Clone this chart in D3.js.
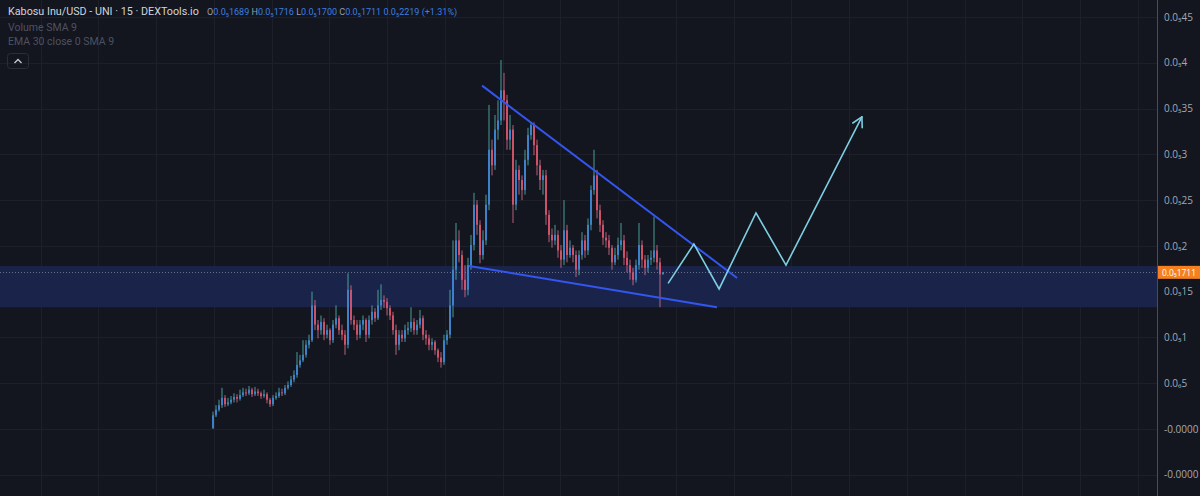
<!DOCTYPE html>
<html><head><meta charset="utf-8">
<script src="https://cdn.jsdelivr.net/npm/d3@7"></script>
<style>html,body{margin:0;padding:0;background:#13151f;overflow:hidden}svg{display:block}</style>
</head><body><svg id="c" width="1200" height="496"></svg>
<script>
// ---- data (prices in hundredths of the "0.0₅" display unit, i.e. 17.11 -> 0.0₅1711) ----
const candleClose = [1.5,2.1,2.6,3.4,2.7,2.9,3.2,3.5,3.3,3.7,
4.0,3.9,4.3,3.8,4.1,3.9,3.6,3.8,3.2,2.7,
3.4,3.6,4.0,3.9,4.5,4.8,5.4,5.9,7.0,7.5,
8.1,9.2,9.7,13.5,11.4,10.8,11.7,10.3,10.8,9.7,
11.4,12.1,10.8,10.3,9.2,15.2,11.9,11.4,10.3,11.4,
11.9,10.3,11.9,12.8,12.1,13.5,14.1,13.9,13.2,12.4,
10.8,9.2,10.3,9.9,10.8,11.0,11.7,10.8,11.4,12.1,
10.3,9.9,9.2,9.5,8.6,7.8,7.3,9.7,10.3,13.5,
17.4,20.6,19.0,16.3,15.2,17.9,20.1,24.5,22.3,19.0,
20.6,24.5,30.5,28.8,32.7,33.7,37.0,35.9,31.6,32.7,
24.5,28.3,27.2,26.1,29.4,32.1,33.2,31.0,28.8,27.2,
27.7,23.4,21.2,20.6,21.2,19.5,18.5,21.7,19.0,19.8,
19.0,17.4,19.0,20.6,19.5,22.3,26.1,27.7,23.9,22.3,
20.9,20.6,19.8,18.2,19.0,20.1,20.6,18.7,17.9,17.1,
16.3,17.9,20.1,18.5,17.6,18.5,18.7,19.5,18.2,16.89,
17.11];
const candleHigh = [1.9,2.6,3.2,4.5,3.7,3.4,3.6,3.9,3.8,4.3,
4.5,4.4,4.7,4.5,4.6,4.4,4.1,4.3,4.0,3.4,
3.7,4.0,4.5,4.4,4.8,5.2,5.8,6.4,8.4,8.1,
9.7,9.7,10.3,15.0,14.1,11.9,12.4,12.1,11.4,11.0,
11.9,13.5,12.4,11.4,10.8,17.0,15.7,12.4,11.9,11.9,
12.4,12.1,12.4,13.5,13.2,15.2,15.8,14.6,14.3,13.5,
12.8,11.4,10.8,10.8,11.4,11.7,13.3,12.1,11.9,13.0,
12.4,10.8,10.3,9.9,9.7,8.8,8.4,10.3,10.8,15.2,
20.6,22.5,21.7,19.5,17.9,18.7,21.2,25.8,25.0,22.8,
21.7,25.6,35.4,31.6,34.3,35.9,40.3,38.9,36.5,34.3,
33.2,29.4,28.8,27.7,30.5,32.9,33.5,33.5,31.6,29.4,
28.3,28.3,23.9,21.9,22.3,21.7,20.1,25.0,22.3,20.6,
20.1,19.5,19.5,21.5,21.2,23.0,26.6,30.5,28.3,24.5,
22.8,21.5,21.2,20.1,19.8,20.9,22.5,21.2,19.4,18.5,
17.6,18.5,22.5,20.6,19.0,19.0,19.5,23.2,20.1,18.7,
17.16];
const candleLow = [0.0,1.3,1.9,2.3,2.4,2.5,2.7,2.9,2.9,3.1,
3.5,3.6,3.7,3.5,3.6,3.6,3.3,3.4,2.8,2.4,
2.5,3.2,3.4,3.6,3.7,4.3,4.6,5.1,5.6,6.7,
7.3,7.8,8.8,9.5,10.8,9.9,10.3,9.7,9.9,9.2,
9.4,11.0,10.3,9.7,8.1,8.8,11.4,10.8,9.7,9.9,
10.8,9.5,9.9,11.4,11.7,11.9,13.0,13.2,12.4,11.9,
10.3,8.1,8.6,9.5,9.5,10.3,10.6,10.3,10.3,11.0,
9.7,9.2,8.6,8.6,8.1,7.3,6.7,7.0,9.2,9.9,
12.2,16.3,18.2,15.2,14.4,14.6,17.4,19.5,21.2,18.1,
18.5,20.1,23.9,27.7,28.3,31.6,33.2,33.7,30.5,30.5,
22.5,23.9,25.6,25.0,25.6,28.8,31.6,29.9,27.7,26.1,
25.6,22.3,20.4,19.8,20.1,18.7,17.6,17.9,18.2,18.7,
18.2,16.6,16.8,18.5,18.7,19.0,21.7,25.6,23.0,21.5,
20.1,19.8,19.0,17.4,17.9,18.5,19.5,17.9,17.1,16.3,
15.7,16.0,17.4,17.6,16.8,17.1,17.9,18.2,17.4,13.3,
16.89];
const firstOpen = 0.1;
const lastPrice = 17.11;

const yTicks = [-5,0,5,10,15,20,25,30,35,40,45];
const zoneTop = 17.8, zoneBottom = 13.3;

const upperLineTime = [89.7,174.7], upperLinePrice = [37.5,16.5];
const lowerLineTime = [85.3,168.0], lowerLinePrice = [17.8,13.3];
const zigTime  = [151.7,160.3,168.7,181.0,191.0,216.3];
const zigPrice = [15.9,20.2,15.3,23.6,17.9,34.1];

const titleText = "Kabosu Inu/USD - UNI · 15 · DEXTools.io";
const ohlcLabels = ["O","H","L","C"];
const ohlcValues = [16.89,17.16,17.00,17.11];
const changeValue = 22.19, changePct = "(+1.31%)";
const indicatorLines = ["Volume SMA 9","EMA 30 close 0 SMA 9"];

// ---- helpers ----
const SUB = "₀₁₂₃₄₅₆₇₈₉";
function fmtDigits(u, spec){
  if(u<=0) return "-0.0000";
  const s = d3.format(spec)(u/100);
  const dec = s.split(".")[1];
  const z = dec.match(/^0*/)[0].length;
  return "0.0" + SUB[5+z] + dec.slice(z);
}
const fmt = u => fmtDigits(u, ".4~f");     // axis ticks
const fmtFull = u => fmtDigits(u, ".4f");  // legend values
function fitWidth(sel, base, target){
  sel.attr("font-size", base+"px");
  const w = sel.node().getComputedTextLength();
  if(w>0) sel.attr("font-size", (base*target/w).toFixed(2)+"px");
}

const W=1200,H=496,axisX=1157;
const FF="'Open Sans', 'DejaVu Sans', sans-serif";
const FH="Roboto, 'DejaVu Sans', sans-serif";
const svg = d3.select("#c");
const x = d3.scaleLinear().domain([0,150]).range([213,663]);
const y = d3.scaleLinear().domain([0,45]).range([429,17]);

svg.append("rect").attr("width",W).attr("height",H).attr("fill","#13151f");

// grid
const gridTimes = d3.range(-57.42, 315, 19.25);
const g = svg.append("g");
g.selectAll("line.v").data(gridTimes).enter().append("line")
 .attr("x1",d=>Math.round(x(d))+0.5).attr("x2",d=>Math.round(x(d))+0.5)
 .attr("y1",0).attr("y2",H).attr("stroke","#1d2029").attr("stroke-width",1);
g.selectAll("line.h").data(yTicks).enter().append("line")
 .attr("x1",0).attr("x2",axisX).attr("y1",d=>Math.round(y(d))+0.5).attr("y2",d=>Math.round(y(d))+0.5)
 .attr("stroke","#1d2029").attr("stroke-width",1);

// zone
svg.append("rect").attr("x",0).attr("width",axisX)
 .attr("y",y(zoneTop)).attr("height",y(zoneBottom)-y(zoneTop))
 .attr("fill","#1a244b");

// price line
svg.append("line").attr("x1",0).attr("x2",axisX)
 .attr("y1",Math.round(y(lastPrice))+0.5).attr("y2",Math.round(y(lastPrice))+0.5)
 .attr("stroke","#7f8594").attr("stroke-width",1).attr("stroke-dasharray","1,2").attr("opacity",0.8);

// candles
const candles = candleClose.map((c,i)=>({i, o: i===0?firstOpen:candleClose[i-1], c, h:candleHigh[i], l:candleLow[i]}));
const cg = svg.append("g");
const upBody="#3f86d6", upWick="#4a9e98", dnBody="#d9566c", dnWick="#b8607f";
cg.selectAll("line").data(candles).enter().append("line")
 .attr("x1",d=>x(d.i)).attr("x2",d=>x(d.i))
 .attr("y1",d=>y(d.h)).attr("y2",d=>y(d.l))
 .attr("stroke",d=>d.c>=d.o?upWick:dnWick).attr("stroke-width",1);
cg.selectAll("rect").data(candles).enter().append("rect")
 .attr("x",d=>x(d.i)-0.9).attr("width",1.8)
 .attr("y",d=>y(Math.max(d.o,d.c)))
 .attr("height",d=>Math.max(1,Math.abs(y(d.o)-y(d.c))))
 .attr("fill",d=>d.c>=d.o?upBody:dnBody);

// trend lines
const line = d3.line().x(d=>x(d[0])).y(d=>y(d[1]));
svg.append("path").attr("d",line(upperLineTime.map((t,i)=>[t,upperLinePrice[i]])))
 .attr("stroke","#3356ee").attr("stroke-width",2).attr("fill","none");
svg.append("path").attr("d",line(lowerLineTime.map((t,i)=>[t,lowerLinePrice[i]])))
 .attr("stroke","#3356ee").attr("stroke-width",2).attr("fill","none");

// zigzag projection
const zz = zigTime.map((t,i)=>[t,zigPrice[i]]);
svg.append("path").attr("d",line(zz)).attr("stroke","#7ccfe2").attr("stroke-width",1.6).attr("fill","none");
const n=zz.length, tx=x(zz[n-1][0]), ty=y(zz[n-1][1]), px=x(zz[n-2][0]), py=y(zz[n-2][1]);
const ang=Math.atan2(ty-py,tx-px), L=11;
[ang+Math.PI-0.5, ang+Math.PI+0.5].forEach(a=>{
  svg.append("line").attr("x1",tx).attr("y1",ty).attr("x2",tx+L*Math.cos(a)).attr("y2",ty+L*Math.sin(a))
   .attr("stroke","#7ccfe2").attr("stroke-width",1.6).attr("stroke-linecap","round");
});

// right axis
svg.append("rect").attr("x",axisX).attr("y",0).attr("width",W-axisX).attr("height",H).attr("fill","#13151f");
svg.append("line").attr("x1",axisX+0.5).attr("x2",axisX+0.5).attr("y1",0).attr("y2",H).attr("stroke","#4a4d58");
const yAxis = d3.axisRight(y).tickValues(yTicks).tickFormat(fmt).tickSize(0).tickPadding(7);
const ax = svg.append("g").attr("transform",`translate(${axisX},0)`).call(yAxis);
ax.select(".domain").remove();
ax.selectAll("text").attr("fill","#a6a9b2").attr("font-size","10px").attr("font-family",FF);

// last price label
const ly=y(lastPrice);
svg.append("rect").attr("x",axisX+1).attr("y",ly-6.5).attr("width",W-axisX-1).attr("height",13).attr("fill","#f4801f");
const lt = svg.append("text").attr("x",axisX+5).attr("y",ly+3.6).text(fmtFull(lastPrice))
 .attr("fill","#ffffff").attr("font-family",FF);
fitWidth(lt, 10, 34);

// header
const tt = svg.append("text").attr("x",8).attr("y",15).text(titleText).attr("fill","#d1d4dc").attr("font-family",FH);
fitWidth(tt, 12, 191);
const ht = svg.append("text").attr("x",207).attr("y",15).attr("font-family",FH);
ohlcLabels.forEach((lab,i)=>{
  ht.append("tspan").text((i?" ":"")+lab).attr("fill","#9a9da6");
  ht.append("tspan").text(fmtFull(ohlcValues[i])).attr("fill","#3b7fe0");
});
ht.append("tspan").text(" "+fmtFull(changeValue)+" "+changePct).attr("fill","#3b7fe0");
fitWidth(ht, 11, 250);
indicatorLines.forEach((t,i)=>{
  svg.append("text").attr("x",8).attr("y",31+i*14).text(t).attr("fill","#4e525f").attr("font-size","10.5px").attr("font-family",FH);
});
svg.append("rect").attr("x",7.5).attr("y",53.5).attr("width",21).attr("height",15).attr("rx",3)
 .attr("fill","none").attr("stroke","#2b2e39");
svg.append("path").attr("d","M14.5,63 L18,59.5 L21.5,63").attr("fill","none").attr("stroke","#c8cad0").attr("stroke-width",1.3);
</script></body></html>
